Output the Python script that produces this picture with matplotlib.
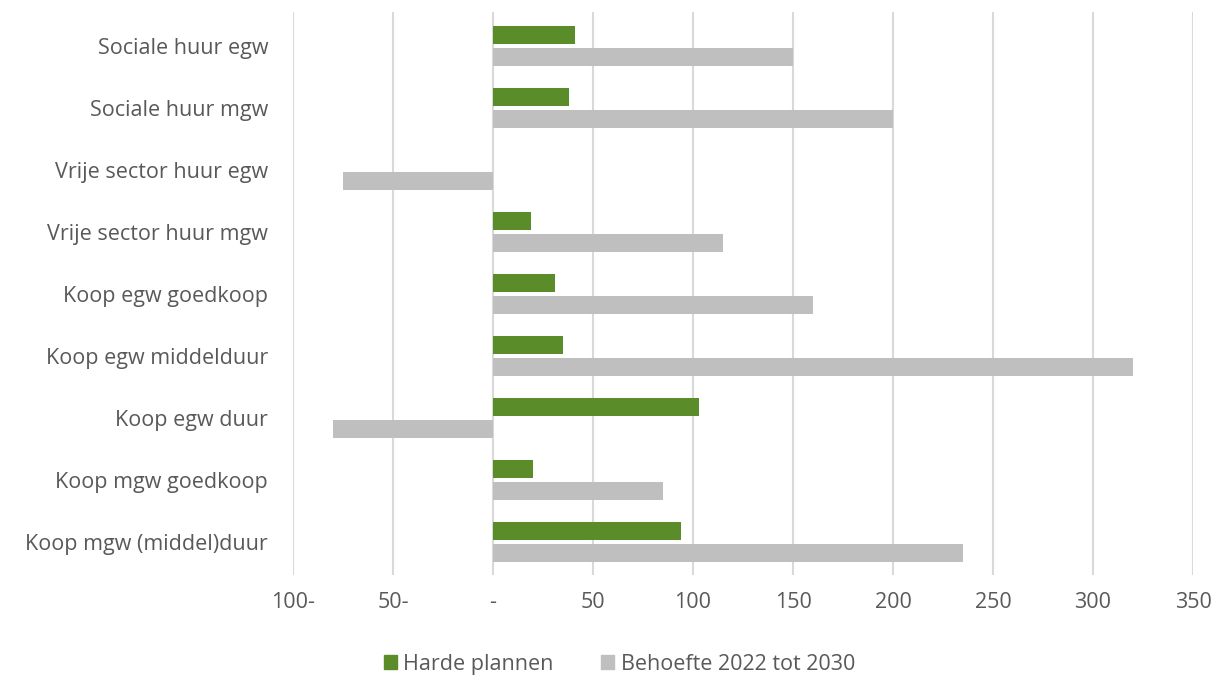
import numpy as np
import matplotlib.pyplot as plt
from matplotlib.patches import Patch

plt.rcParams['font.family'] = ['Open Sans', 'DejaVu Sans']

categories = [
    'Sociale huur egw',
    'Sociale huur mgw',
    'Vrije sector huur egw',
    'Vrije sector huur mgw',
    'Koop egw goedkoop',
    'Koop egw middelduur',
    'Koop egw duur',
    'Koop mgw goedkoop',
    'Koop mgw (middel)duur',
]
harde_plannen = [41, 38, 0, 19, 31, 35, 103, 20, 94]
behoefte = [150, 200, -75, 115, 160, 320, -80, 85, 235]

tick_values = [-100, -50, 0, 50, 100, 150, 200, 250, 300, 350]
tick_labels = ['100-', '50-', '-', '50', '100', '150', '200', '250', '300', '350']

green = '#5B8C2A'
grey = '#BFBFBF'
text_col = '#595959'

fig = plt.figure(figsize=(12.17, 6.77), dpi=100)
ax = fig.add_axes([0.2408, 0.1507, 0.7395, 0.8313])

y = np.arange(len(categories))
h = 0.29
off = 0.177
ax.barh(y - off, harde_plannen, height=h, color=green, zorder=3)
ax.barh(y + off, behoefte, height=h, color=grey, zorder=3)

ax.set_xlim(-100, 350)
ax.set_ylim(8.53, -0.55)
ax.set_xticks(tick_values)
ax.set_xticklabels(tick_labels)
ax.set_yticks(y)
ax.set_yticklabels(categories)
ax.tick_params(axis='both', length=0, labelsize=15.5, colors=text_col)
ax.tick_params(axis='x', pad=12)
ax.tick_params(axis='y', pad=18)
ax.grid(axis='x', color='#D9D9D9', linewidth=1.5, zorder=0)
for s in ax.spines.values():
    s.set_visible(False)

handles = [Patch(color=green), Patch(color=grey)]
fig.legend(handles, ['Harde plannen', 'Behoefte 2022 tot 2030'],
           loc='center', bbox_to_anchor=(0.509, 0.019), ncol=2, frameon=False,
           fontsize=15.5, handlelength=0.6, handleheight=0.6, handletextpad=0.3,
           columnspacing=2.2, labelcolor=text_col)

fig.savefig('out.png', dpi=100)
